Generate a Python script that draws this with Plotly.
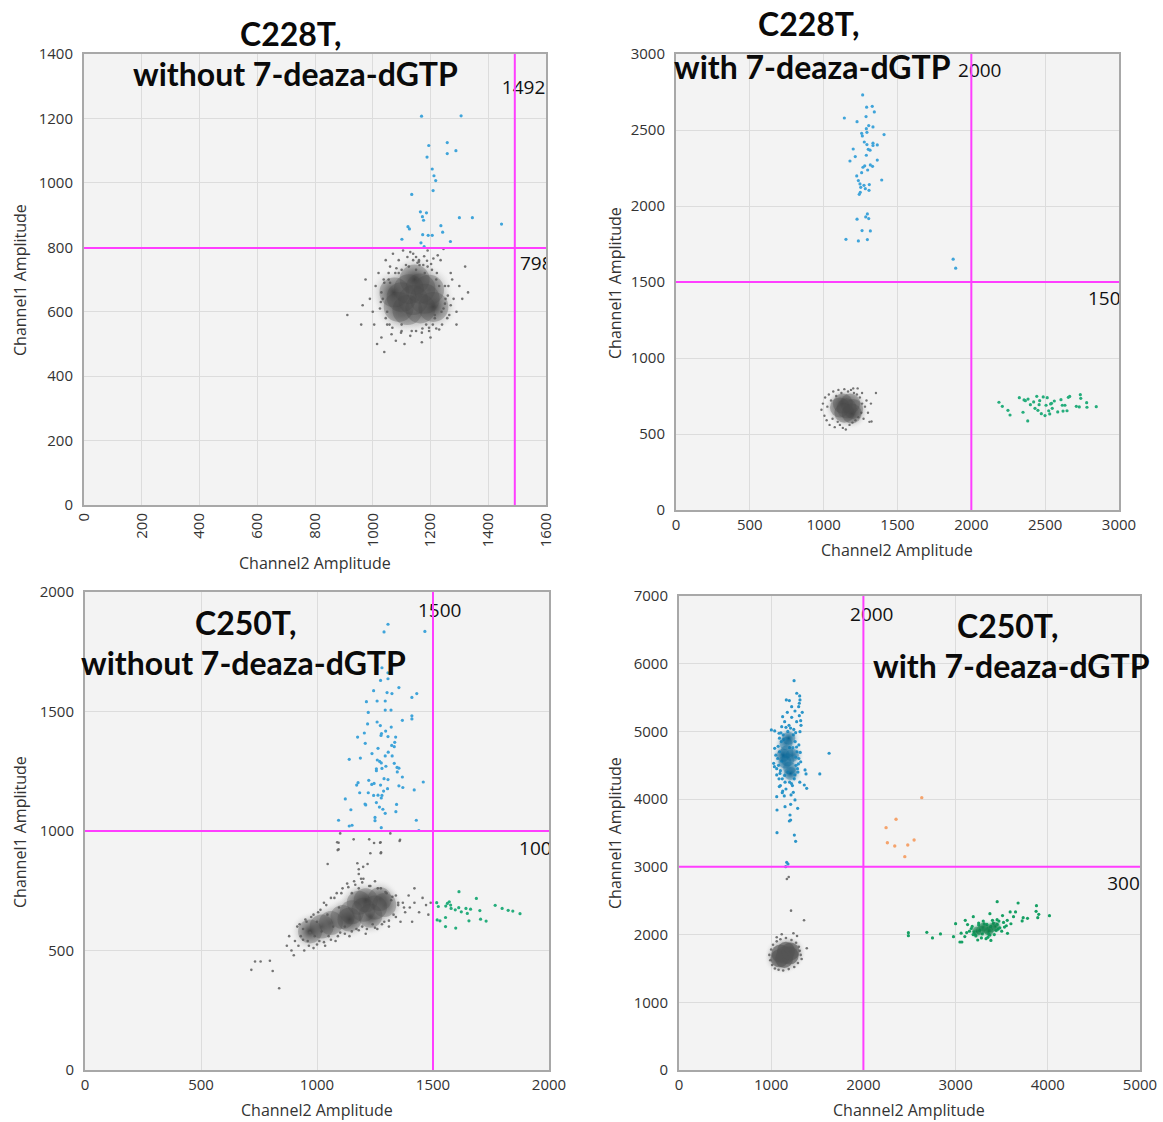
import plotly.graph_objects as go

W, H = 1163, 1122

# ================= DATA =================
# ---- Panel A: C228T, without 7-deaza-dGTP ----
a_thr = (1492, 798)
a_blue_x = [1169, 1306, 1194, 1258, 1258, 1288, 1188, 1206, 1212, 1218, 1209, 1135, 1165, 1186, 1172,
            1176, 1300, 1345, 1446, 1122, 1127, 1236, 1242, 1101, 1173, 1192, 1206, 1167, 1269, 1178]
a_blue_y = [1207, 1208, 1116, 1125, 1091, 1100, 1080, 1043, 1022, 1007, 976, 964, 910, 907, 895,
            884, 892, 892, 872, 864, 857, 867, 847, 825, 839, 837, 837, 814, 818, 802]
a_core_x = [1140, 1100, 1180, 1120, 1165, 1125, 1165, 1090, 1195, 1210, 1075, 1145]
a_core_y = [636, 645, 640, 605, 610, 670, 672, 615, 668, 615, 660, 700]
a_grey_x = [975, 990, 1000, 1005, 1010, 1020, 1030, 1040, 1045, 1050, 1055, 1060, 1065, 1070, 1080,
            1090, 1100, 1105, 1110, 1120, 1130, 1140, 1150, 1160, 1170, 1175, 1185, 1190, 1200, 1205,
            1215, 1220, 1230, 1235, 1245, 1250, 1260, 1265, 1270, 1280, 1290, 1300, 1310, 1320, 1330,
            912, 960, 965, 1015, 1245, 1290, 1050, 1230, 1100, 1180, 1060, 1215, 1090, 1195, 1035,
            1250, 1160, 1210, 1130, 1225,
            1025, 1030, 1038, 1045, 1055, 1068, 1082, 1098, 1115, 1135, 1155, 1172, 1190, 1208, 1222,
            1238, 1252, 1262, 1270, 1275, 1258, 1240, 1220, 1195, 1170, 1150, 1125, 1100, 1078, 1058,
            1040, 1028, 1150, 1178, 1202, 1188, 1140, 1162]
a_grey_y = [700, 640, 600, 560, 680, 720, 520, 475, 760, 560, 700, 740, 530, 780, 510,
            760, 540, 790, 500, 770, 525, 780, 540, 760, 505, 745, 560, 790, 520, 730,
            580, 700, 545, 760, 610, 680, 650, 590, 720, 640, 600, 680, 640, 740, 660,
            590, 560, 620, 500, 795, 560, 600, 680, 560, 720, 690, 590, 720, 550, 640,
            625, 755, 765, 785, 775,
            610, 660, 700, 580, 720, 550, 735, 535, 745, 540, 752, 548, 740, 560, 720,
            600, 640, 680, 620, 700, 580, 560, 548, 540, 535, 730, 740, 730, 720, 560,
            690, 630, 770, 772, 748, 758, 760, 745]

# ---- Panel B: C228T, with 7-deaza-dGTP ----
b_thr = (2000, 1500)
b_blue_x = [1264, 1291, 1329, 1343, 1140, 1287, 1226, 1305, 1334, 1289, 1257, 1293, 1262, 1409, 1275,
            1293, 1334, 1363, 1334, 1200, 1302, 1314, 1289, 1214, 1178, 1363, 1278, 1316, 1331, 1266,
            1298, 1257, 1224, 1235, 1393, 1246, 1273, 1309, 1251, 1282, 1307, 1248, 1241, 1296, 1285,
            1305, 1226, 1260, 1316, 1151, 1235, 1296, 1877, 1894]
b_blue_y = [2731, 2650, 2656, 2619, 2579, 2588, 2555, 2529, 2520, 2509, 2478, 2485, 2461, 2470, 2421,
            2404, 2413, 2402, 2398, 2375, 2373, 2367, 2334, 2325, 2296, 2302, 2264, 2270, 2261, 2255,
            2237, 2219, 2198, 2167, 2171, 2145, 2136, 2141, 2123, 2114, 2103, 2090, 2077, 1948, 1928,
            1917, 1913, 1838, 1836, 1781, 1770, 1779, 1650, 1591]
b_green_x = [2187, 2210, 2248, 2262, 2325, 2350, 2357, 2366, 2382, 2384, 2400, 2422, 2431, 2443, 2451,
             2463, 2459, 2474, 2487, 2499, 2506, 2514, 2524, 2531, 2537, 2543, 2548, 2562, 2585, 2607,
             2616, 2621, 2634, 2648, 2657, 2666, 2711, 2731, 2738, 2741, 2781, 2783, 2846]
b_green_y = [709, 682, 656, 625, 739, 643, 724, 719, 586, 730, 693, 711, 669, 748, 656,
             719, 693, 634, 744, 621, 689, 739, 653, 632, 698, 702, 669, 717, 645, 726,
             689, 651, 689, 653, 741, 747, 682, 678, 759, 735, 706, 676, 680]
b_core_x = [1156, 1110, 1200, 1140, 1180, 1130, 1190]
b_core_y = [669, 675, 665, 640, 700, 700, 635]
b_grey_x = [985, 995, 1005, 1010, 1020, 1025, 1035, 1040, 1050, 1060, 1065, 1075, 1085, 1095, 1100,
            1110, 1120, 1130, 1140, 1150, 1165, 1175, 1185, 1195, 1205, 1215, 1225, 1235, 1245, 1255,
            1260, 1270, 1280, 1290, 1300, 1310, 1320, 1354, 1324, 1230, 1200, 1260]
b_grey_y = [660, 700, 620, 740, 590, 680, 760, 560, 720, 600, 780, 545, 750, 580, 790,
            560, 770, 540, 795, 530, 780, 560, 790, 575, 770, 590, 760, 610, 740, 640,
            700, 600, 680, 720, 640, 580, 700, 770, 582, 800, 800, 770]

# ---- Panel C: C250T, without 7-deaza-dGTP ----
c_thr = (1500, 1000)
c_blue_x = [1306, 1289, 1465, 1280, 1306, 1306, 1274, 1353, 1244, 1302, 1323, 1430, 1409, 1213, 1259,
            1294, 1294, 1319, 1221, 1409, 1409, 1368, 1259, 1218, 1273, 1320, 1296, 1204, 1278, 1276,
            1175, 1306, 1339, 1335, 1322, 1208, 1333, 1263, 1307, 1237, 1294, 1324, 1139, 1187, 1260,
            1270, 1277, 1333, 1345, 1353, 1256, 1297, 1256, 1280, 1346, 1368, 1223, 1289, 1306, 1177,
            1171, 1236, 1246, 1274, 1353, 1370, 1458, 1184, 1221, 1244, 1263, 1280, 1304, 1287, 1419,
            1122, 1207, 1210, 1277, 1256, 1269, 1284, 1294, 1146, 1340, 1343, 1250, 1250, 1093, 1139,
            1151, 1277, 1428, 1439]
c_blue_y = [1865, 1833, 1835, 1683, 1662, 1637, 1630, 1600, 1587, 1579, 1575, 1575, 1559, 1541, 1544,
            1544, 1506, 1506, 1496, 1482, 1469, 1463, 1456, 1448, 1441, 1435, 1418, 1410, 1408, 1400,
            1393, 1395, 1393, 1371, 1358, 1367, 1353, 1346, 1330, 1324, 1314, 1314, 1300, 1305, 1297,
            1291, 1285, 1283, 1266, 1263, 1260, 1271, 1252, 1262, 1247, 1226, 1212, 1219, 1215, 1202,
            1192, 1195, 1199, 1192, 1189, 1182, 1205, 1160, 1160, 1149, 1150, 1149, 1177, 1167, 1172,
            1134, 1113, 1109, 1138, 1119, 1100, 1091, 1074, 1089, 1081, 1111, 1057, 1043, 1045, 1021,
            1024, 1014, 1045, 1002]
c_green_x = [1516, 1523, 1518, 1530, 1555, 1562, 1570, 1576, 1578, 1554, 1554, 1598, 1596, 1612, 1611,
             1622, 1642, 1648, 1655, 1662, 1687, 1702, 1705, 1729, 1768, 1798, 1824, 1844, 1875]
c_green_y = [700, 684, 628, 624, 686, 697, 704, 690, 676, 638, 600, 594, 670, 746, 679,
             662, 676, 655, 624, 673, 718, 667, 631, 623, 689, 676, 668, 665, 654]
c_core_x = [1200, 1150, 1250, 1110, 1290, 1180, 1230, 1060, 1270, 1140, 1210, 1020, 970]
c_core_y = [670, 660, 680, 640, 690, 700, 645, 615, 715, 630, 710, 600, 580]
c_grey_x = [870, 880, 890, 900, 905, 915, 920, 930, 940, 945, 955, 960, 970, 975, 985,
            990, 1000, 1005, 1010, 1020, 1030, 1035, 1045, 1050, 1060, 1070, 1080, 1085, 1095, 1100,
            1110, 1120, 1130, 1140, 1150, 1160, 1170, 1180, 1195, 1200, 1210, 1225, 1240, 1250, 1260,
            1275, 1290, 1300, 1310, 1320, 1330, 1340, 1350, 1360, 1370, 1380, 1395, 1400, 1410, 1420,
            1440, 1455, 1470, 1480, 1490, 1420, 1180, 1190,
            1093, 1089, 1046, 1174, 1180, 1199, 1218, 1230, 1275, 1272, 1356, 1246, 1087, 1158, 1225,
            1274, 1093, 1276, 1358, 1100, 1316,
            717, 733, 757, 797, 809, 837,
            925, 950, 985, 1015, 1040, 1075, 1105, 1135, 1165, 1195, 1230, 1262, 1295, 1325, 1350,
            1375, 1340, 1310, 1280, 1250, 1215, 1180, 1150, 1120, 1090, 1060, 1030, 1000, 965, 940]
c_grey_y = [520, 560, 500, 480, 540, 600, 520, 560, 590, 500, 620, 540, 575, 640, 510,
            560, 620, 660, 540, 580, 700, 520, 650, 560, 720, 600, 540, 740, 680, 575,
            760, 600, 780, 560, 740, 790, 590, 760, 600, 800, 570, 770, 610, 790, 590,
            760, 620, 740, 600, 710, 650, 730, 690, 620, 700, 660, 730, 680, 620, 700,
            660, 720, 690, 650, 700, 760, 820, 800,
            951, 920, 862, 865, 840, 850, 862, 907, 907, 951, 958, 950, 953, 965, 965,
            953, 923, 911, 963, 990, 990,
            419, 454, 454, 457, 414, 342,
            610, 630, 650, 670, 690, 720, 740, 765, 775, 785, 770, 760, 745, 725, 700,
            680, 640, 625, 610, 595, 590, 585, 580, 570, 560, 545, 535, 525, 520, 545]

# ---- Panel D: C250T, with 7-deaza-dGTP ----
d_thr = (2000, 3000)
d_blue_core_x = [1180, 1170, 1200, 1160, 1210, 1150, 1230, 1190, 1130]
d_blue_core_y = [4580, 4700, 4460, 4820, 4380, 4550, 4650, 4900, 4650]
d_blue_x = [1248, 1277, 1312, 1164, 1197, 1305, 1298, 1258, 1337, 1175, 1305, 1124, 1222, 1276, 1320,
            1146, 1193, 1323, 1002, 1038, 1265, 1312, 1114, 1038, 1027, 1367, 1378, 1628, 1527, 1035,
            1060, 1385, 1359, 1088, 1120, 1142, 1060, 1215, 1287, 1258, 1211, 1150, 1063, 1204, 1197,
            1211, 1063, 1251, 1265, 1168, 1182, 1157, 1309, 1222, 1085,
            1070, 1080, 1090, 1100, 1110, 1120, 1250, 1260, 1270, 1280, 1290, 1300, 1240, 1130, 1150,
            1230, 1200, 1100, 1320, 1050, 1060, 1300, 1180, 1210, 1160, 1240, 1090, 1310,
            1075, 1095, 1115, 1135, 1255, 1275, 1295, 1315, 1085, 1105, 1265, 1285, 1125, 1245, 1145,
            1235, 1160, 1220, 1180, 1200]
d_blue_y = [5750, 5564, 5465, 5465, 5455, 5416, 5366, 5302, 5282, 5282, 5232, 5218, 5208, 5144, 5159,
            5144, 5090, 5090, 5022, 5007, 4982, 4997, 5070, 4751, 4529, 4431, 4372, 4678, 4372, 4480,
            4357, 4160, 4209, 4185, 4096, 4047, 4037, 4062, 3865, 3988, 3924, 3889, 3840, 3766, 3677,
            3692, 3505, 3470, 3377, 3067, 3042, 3003, 5524, 5366, 4973,
            4600, 4500, 4700, 4420, 4850, 4300, 4300, 4850, 4500, 4700, 4400, 4600, 4950, 4950, 4250,
            4200, 4250, 4200, 4550, 4650, 4450, 4800, 5000, 5050, 4150, 4100, 4900, 4250,
            4780, 4380, 4560, 4880, 4360, 4770, 4520, 4690, 4300, 4980, 4620, 4450, 4120, 5030, 4350,
            4760, 5060, 4230, 4400, 4760]
d_orange_x = [2633, 2354, 2246, 2260, 2340, 2481, 2550, 2449]
d_orange_y = [4022, 3703, 3579, 3357, 3308, 3323, 3397, 3151]
d_green_core_x = [3330, 3270, 3390, 3230, 3430, 3300, 3360]
d_green_core_y = [2080, 2060, 2100, 2050, 2120, 2110, 2050]
d_green_x = [2488, 2488, 2688, 2749, 2836, 2977, 3000, 3047, 3068, 3105, 3130, 3192, 3372, 3383, 3451,
             3509, 3563, 3592, 3628, 3650, 3678, 3722, 3733, 3780, 3877, 3873, 3902, 3891, 4018,
             3150, 3180, 3220, 3250, 3280, 3300, 3350, 3400, 3420, 3450, 3480, 3520, 3550, 3600, 3200,
             3260, 3380, 3100, 3120, 3060, 3450, 3500, 3330, 3240,
             3170, 3210, 3290, 3310, 3340, 3370, 3410, 3440, 3470, 3530, 3560, 3250, 3360, 3190, 3460]
d_green_y = [2028, 1984, 2033, 1950, 2009, 1969, 2161, 1890, 1890, 2211, 2147, 2265, 2309, 1914, 2486,
             2280, 2019, 2334, 2265, 2334, 2466, 2201, 2250, 2240, 2427, 2343, 2299, 2250, 2279,
             2050, 2120, 1980, 2170, 1950, 2200, 1960, 2210, 2000, 2150, 2100, 2180, 2130, 2160, 2040,
             2060, 2120, 1970, 2030, 2020, 2220, 2050, 1940, 1920,
             2090, 2000, 2010, 2160, 2150, 1990, 2170, 2060, 2200, 2110, 2210, 2140, 2010, 2000, 2080]
d_core_x = [1150, 1100, 1200, 1140, 1160, 1090, 1210]
d_core_y = [1700, 1720, 1690, 1640, 1760, 1650, 1750]
d_grey_x = [980, 990, 1000, 1010, 1020, 1040, 1060, 1080, 1100, 1130, 1160, 1190, 1220, 1250, 1270,
            1290, 1300, 1320, 1330, 1310, 1241, 1114, 1386, 1356, 1215, 1190, 1170, 1280, 1060]
d_grey_y = [1700, 1620, 1780, 1550, 1850, 1500, 1900, 1480, 1930, 1470, 1950, 1490, 1920, 1520, 1880,
            1580, 1820, 1700, 1640, 1760, 2019, 2004, 1797, 2211, 2353, 2850, 2820, 1980, 1960]

# ================= STYLE / LAYOUT =================
BLUE = "#3fa4da"
GREEN = "#25ad7c"
MAG = "#ff3dff"
FONT = "Open Sans"
CLEAR = "rgba(243,243,243,0)"


def xdom(p0, p1):
    return [p0 / W, p1 / W]


def ydom(top, bottom):
    return [(H - bottom) / H, (H - top) / H]


panels = [
    dict(xd=xdom(84, 546), yd=ydom(54, 505), xr=[0, 1600], yr=[0, 1400], xdt=200, ydt=200, xangle=-90),
    dict(xd=xdom(676, 1119), yd=ydom(54, 510), xr=[0, 3000], yr=[0, 3000], xdt=500, ydt=500, xangle=0),
    dict(xd=xdom(85, 549), yd=ydom(592, 1070), xr=[0, 2000], yr=[0, 2000], xdt=500, ydt=500, xangle=0),
    dict(xd=xdom(679, 1140), yd=ydom(596, 1070), xr=[0, 5000], yr=[0, 7000], xdt=1000, ydt=1000, xangle=0),
]

fig = go.Figure()
layout = dict(width=W, height=H, margin=dict(l=0, r=0, t=0, b=0), paper_bgcolor="white",
              plot_bgcolor="#f3f3f3", showlegend=False, font=dict(family=FONT, color="#333333"))

for i, p in enumerate(panels):
    s = "" if i == 0 else str(i + 1)
    ax = dict(range=p["xr"], dtick=p["xdt"], tick0=0, domain=p["xd"], anchor="y" + s,
              showline=True, linecolor="#a8a8a8", linewidth=2, mirror=True,
              showgrid=True, gridcolor="#dcdcdc", gridwidth=1, zeroline=False,
              ticks="", tickfont=dict(size=15, color="#333333", family=FONT),
              tickangle=p["xangle"], automargin=False, fixedrange=True)
    ay = dict(range=p["yr"], dtick=p["ydt"], tick0=0, domain=p["yd"], anchor="x" + s,
              showline=True, linecolor="#a8a8a8", linewidth=2, mirror=True,
              showgrid=True, gridcolor="#dcdcdc", gridwidth=1, zeroline=False,
              ticks="", tickfont=dict(size=15, color="#333333", family=FONT),
              ticklabelstandoff=6, automargin=False, fixedrange=True)
    layout["xaxis" + s] = ax
    layout["yaxis" + s] = ay

fig.update_layout(**layout)


def add(xs, ys, k, color, size, opacity=1.0, soft=False):
    s = "" if k == 0 else str(k + 1)
    if soft:
        # radial gradient: dark centre fading to transparent at the rim
        marker = dict(color=CLEAR, size=size, opacity=opacity, line=dict(width=0),
                      gradient=dict(type="radial", color=color))
    else:
        marker = dict(color=color, size=size, opacity=opacity, line=dict(width=0))
    fig.add_trace(go.Scatter(x=xs, y=ys, mode="markers", xaxis="x" + s, yaxis="y" + s,
                             marker=marker, hoverinfo="skip", cliponaxis=True))


# Panel A
add(a_core_x, a_core_y, 0, "#3a3a3a", 50, 1.0, soft=True)
add(a_grey_x, a_grey_y, 0, "#666666", 2.6, 0.9)
add(a_core_x, a_core_y, 0, "#4a4a4a", 30, 0.3)
add(a_blue_x, a_blue_y, 0, BLUE, 3.2)
# Panel B
add(b_core_x, b_core_y, 1, "#3a3a3a", 32, 1.0, soft=True)
add(b_grey_x, b_grey_y, 1, "#666666", 2.4, 0.9)
add(b_core_x, b_core_y, 1, "#4a4a4a", 20, 0.35)
add(b_blue_x, b_blue_y, 1, BLUE, 3.2)
add(b_green_x, b_green_y, 1, GREEN, 3.2)
# Panel C
add(c_core_x, c_core_y, 2, "#3a3a3a", 40, 1.0, soft=True)
add(c_grey_x, c_grey_y, 2, "#666666", 2.6, 0.9)
add(c_core_x, c_core_y, 2, "#4a4a4a", 24, 0.3)
add(c_blue_x, c_blue_y, 2, BLUE, 3.2)
add(c_green_x, c_green_y, 2, GREEN, 3.2)
# Panel D
add(d_core_x, d_core_y, 3, "#3c3c3c", 32, 1.0, soft=True)
add(d_grey_x, d_grey_y, 3, "#666666", 2.6, 0.9)
add(d_core_x, d_core_y, 3, "#555555", 18, 0.6)
add(d_blue_core_x, d_blue_core_y, 3, "#0a5f8e", 24, 1.0, soft=True)
add(d_blue_x, d_blue_y, 3, "#2b95c9", 3.2)
add(d_blue_core_x, d_blue_core_y, 3, "#0b6a9c", 13, 0.35)
add(d_orange_x, d_orange_y, 3, "#f5a36c", 3.4)
add(d_green_core_x, d_green_core_y, 3, "#077a42", 17, 1.0, soft=True)
add(d_green_x, d_green_y, 3, "#16a064", 3.2)
add(d_green_core_x, d_green_core_y, 3, "#0a7d45", 9, 0.4)

# threshold lines
shapes = []
for k, (tx, ty) in enumerate([a_thr, b_thr, c_thr, d_thr]):
    s = "" if k == 0 else str(k + 1)
    shapes.append(dict(type="line", xref="x" + s, yref="y" + s + " domain", x0=tx, x1=tx, y0=0, y1=1,
                       line=dict(color=MAG, width=2), layer="above"))
    shapes.append(dict(type="line", xref="x" + s + " domain", yref="y" + s, x0=0, x1=1, y0=ty, y1=ty,
                       line=dict(color=MAG, width=2), layer="above"))
fig.update_layout(shapes=shapes)

# threshold value labels (clipped at the plot edge like the original)
thr_labels = [
    (0, ["1492", "798"], [1447, 1510], [1290, 745]),
    (1, ["2000", "1500"], [1910, 2790], [2882, 1382]),
    (2, ["1500", "1000"], [1435, 1871], [1916, 920]),
    (3, ["2000", "3000"], [1855, 4644], [6706, 2732]),
]
for k, texts, xs, ys in thr_labels:
    s = "" if k == 0 else str(k + 1)
    fig.add_trace(go.Scatter(x=xs, y=ys, text=texts, mode="text", textposition="middle right",
                             textfont=dict(size=19, color="#111111", family=FONT),
                             xaxis="x" + s, yaxis="y" + s, cliponaxis=True, hoverinfo="skip"))

# titles and axis titles
ann = []


def txt(t, px, py, size, angle=0, bold=False, family=FONT, color="#333333"):
    ann.append(dict(text=("<b>%s</b>" % t) if bold else t, x=px / W, y=(H - py) / H,
                    xref="paper", yref="paper", showarrow=False, textangle=angle,
                    xanchor="center", yanchor="middle",
                    font=dict(size=size, color=color, family=family)))


TF = "Lato"
TS = 32
txt("C228T,", 290, 33, TS, bold=True, family=TF, color="#0a0a0a")
txt("without 7-deaza-dGTP", 295, 73, TS, bold=True, family=TF, color="#0a0a0a")
txt("C228T,", 808, 23, TS, bold=True, family=TF, color="#0a0a0a")
txt("with 7-deaza-dGTP", 812, 67, TS, bold=True, family=TF, color="#0a0a0a")
txt("C250T,", 245, 622, TS, bold=True, family=TF, color="#0a0a0a")
txt("without 7-deaza-dGTP", 243, 662, TS, bold=True, family=TF, color="#0a0a0a")
txt("C250T,", 1007, 626, TS, bold=True, family=TF, color="#0a0a0a")
txt("with 7-deaza-dGTP", 1011, 666, TS, bold=True, family=TF, color="#0a0a0a")

txt("Channel1 Amplitude", 20, 280, 16, angle=-90)
txt("Channel2 Amplitude", 315, 563, 16)
txt("Channel1 Amplitude", 615, 283, 16, angle=-90)
txt("Channel2 Amplitude", 897, 550, 16)
txt("Channel1 Amplitude", 20, 832, 16, angle=-90)
txt("Channel2 Amplitude", 317, 1110, 16)
txt("Channel1 Amplitude", 615, 833, 16, angle=-90)
txt("Channel2 Amplitude", 909, 1110, 16)
fig.update_layout(annotations=ann)

fig.write_html("out.html", config={"displayModeBar": False},
               post_script="document.body.style.margin='0';document.body.style.overflow='hidden';")
